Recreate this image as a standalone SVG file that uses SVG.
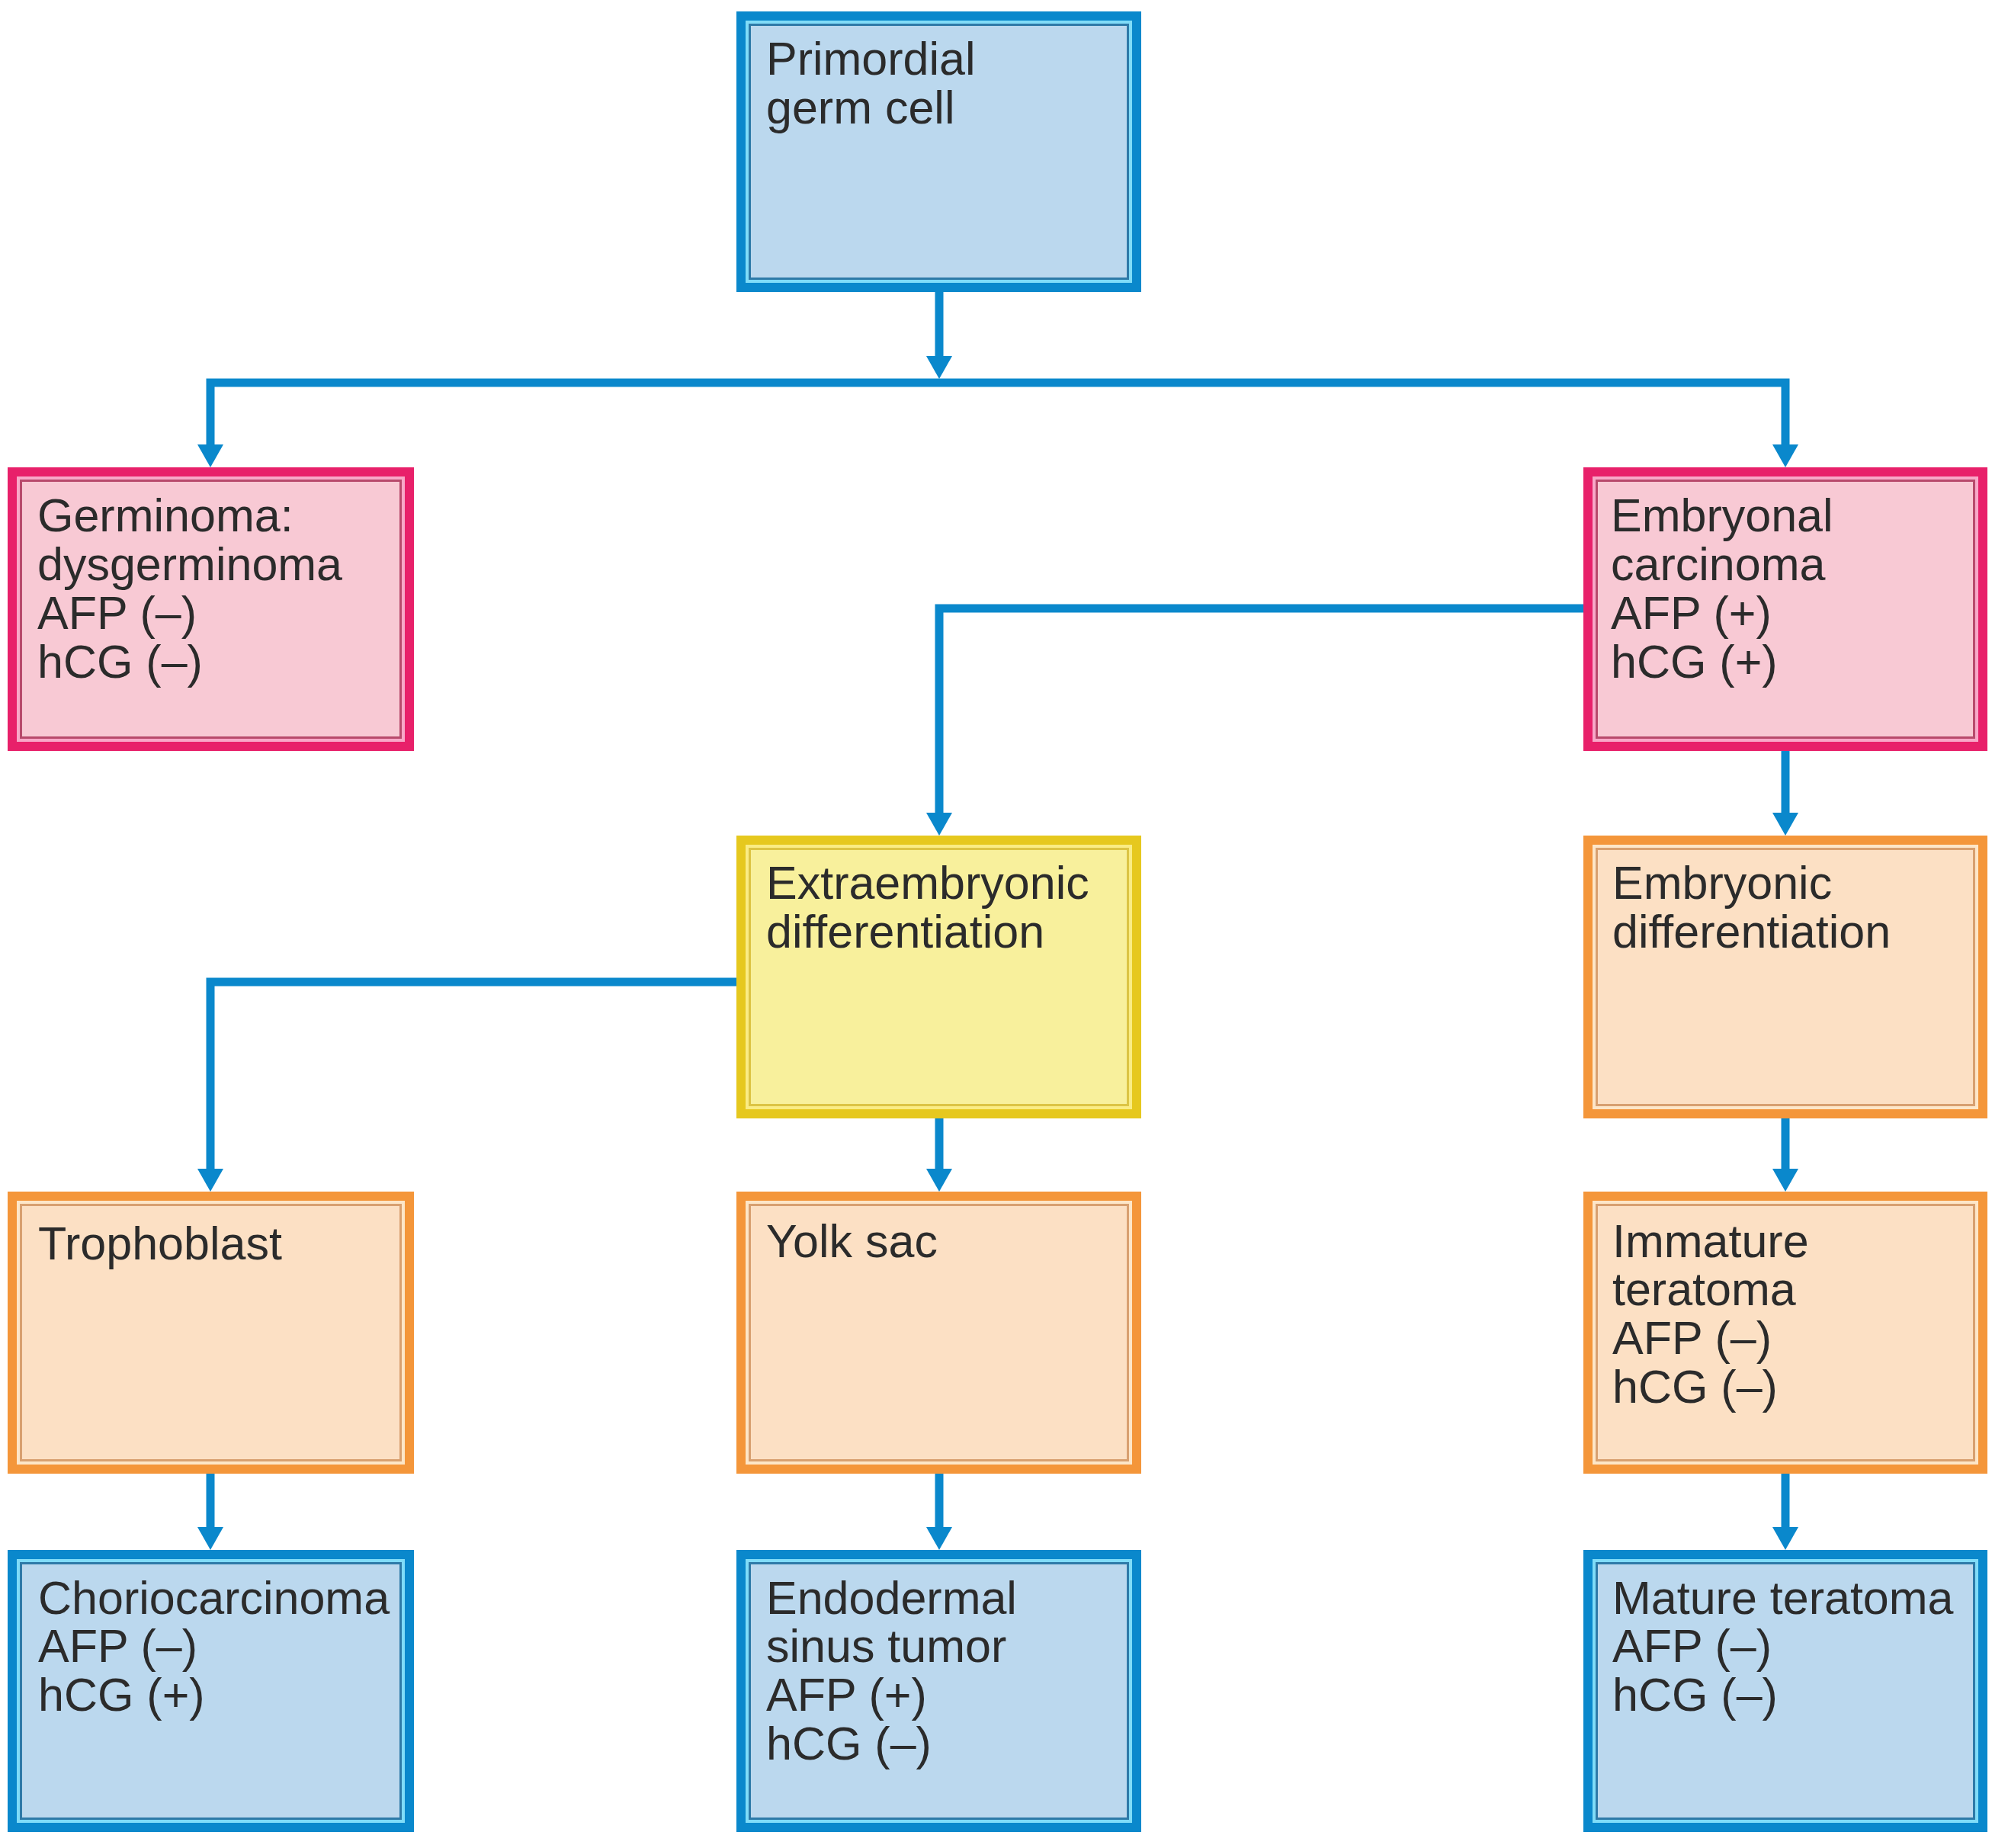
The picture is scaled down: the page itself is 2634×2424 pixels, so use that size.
<svg xmlns="http://www.w3.org/2000/svg" width="2634" height="2424" viewBox="0 0 2634 2424">
<style>
text{font-family:"Liberation Sans",Arial,sans-serif;font-size:61px;fill:#2b2b2b}
.conn{fill:none;stroke:#0a88cc;stroke-width:11;stroke-linejoin:miter;stroke-linecap:butt}
.blue .o{fill:#0a88cc}.blue .l{fill:#80dcf8}.blue .d{fill:#2e7aa8}.blue .f{fill:#bbd8ee}
.pink .o{fill:#e8206a}.pink .l{fill:#f8a8c8}.pink .d{fill:#b84a6c}.pink .f{fill:#f8c9d4}
.yellow .o{fill:#e6c81e}.yellow .l{fill:#faec84}.yellow .d{fill:#dcc444}.yellow .f{fill:#f8f09c}
.orange .o{fill:#f4963a}.orange .l{fill:#fde6c8}.orange .d{fill:#d8a070}.orange .f{fill:#fce0c4}
</style>
<defs>
<marker id="ah" markerUnits="userSpaceOnUse" markerWidth="40" markerHeight="40" refX="2" refY="0" orient="auto" overflow="visible">
<path d="M0,-17 L30,0 L0,17 Z" fill="#0a88cc"/>
</marker>
</defs>
<rect width="2634" height="2424" fill="#ffffff"/>

<g id="connectors">
<path class="conn" d="M1232,383 V469" marker-end="url(#ah)"/>
<path class="conn" d="M1232,502 H276 V585" marker-end="url(#ah)"/>
<path class="conn" d="M1232,502 H2342 V585" marker-end="url(#ah)"/>
<path class="conn" d="M2077,798 H1232 V1068" marker-end="url(#ah)"/>
<path class="conn" d="M2342,985 V1068" marker-end="url(#ah)"/>
<path class="conn" d="M967,1288 H276 V1535" marker-end="url(#ah)"/>
<path class="conn" d="M1232,1467 V1535" marker-end="url(#ah)"/>
<path class="conn" d="M2342,1467 V1535" marker-end="url(#ah)"/>
<path class="conn" d="M276,1933 V2005" marker-end="url(#ah)"/>
<path class="conn" d="M1232,1933 V2005" marker-end="url(#ah)"/>
<path class="conn" d="M2342,1933 V2005" marker-end="url(#ah)"/>
</g>

<g id="primordial" class="blue">
<rect class="o" x="966" y="15" width="531" height="368"/>
<rect class="l" x="978" y="27" width="507" height="344"/>
<rect class="d" x="982" y="31" width="499" height="336"/>
<rect class="f" x="985" y="34" width="493" height="330"/>
<text x="1005" y="98">Primordial</text>
<text x="1005" y="162">germ cell</text>
</g>

<g id="germinoma" class="pink">
<rect class="o" x="10" y="613" width="533" height="372"/>
<rect class="l" x="22" y="625" width="509" height="348"/>
<rect class="d" x="26" y="629" width="501" height="340"/>
<rect class="f" x="29" y="632" width="495" height="334"/>
<text x="49" y="697">Germinoma:</text>
<text x="49" y="761">dysgerminoma</text>
<text x="49" y="825">AFP (–)</text>
<text x="49" y="889">hCG (–)</text>
</g>

<g id="embryonal" class="pink">
<rect class="o" x="2077" y="613" width="530" height="372"/>
<rect class="l" x="2089" y="625" width="506" height="348"/>
<rect class="d" x="2093" y="629" width="498" height="340"/>
<rect class="f" x="2096" y="632" width="492" height="334"/>
<text x="2113" y="697">Embryonal</text>
<text x="2113" y="761">carcinoma</text>
<text x="2113" y="825">AFP (+)</text>
<text x="2113" y="889">hCG (+)</text>
</g>

<g id="extraembryonic" class="yellow">
<rect class="o" x="966" y="1096" width="531" height="371"/>
<rect class="l" x="978" y="1108" width="507" height="347"/>
<rect class="d" x="982" y="1112" width="499" height="339"/>
<rect class="f" x="985" y="1115" width="493" height="333"/>
<text x="1005" y="1179">Extraembryonic</text>
<text x="1005" y="1243">differentiation</text>
</g>

<g id="embryonic" class="orange">
<rect class="o" x="2077" y="1096" width="530" height="371"/>
<rect class="l" x="2089" y="1108" width="506" height="347"/>
<rect class="d" x="2093" y="1112" width="498" height="339"/>
<rect class="f" x="2096" y="1115" width="492" height="333"/>
<text x="2115" y="1179">Embryonic</text>
<text x="2115" y="1243">differentiation</text>
</g>

<g id="trophoblast" class="orange">
<rect class="o" x="10" y="1563" width="533" height="370"/>
<rect class="l" x="22" y="1575" width="509" height="346"/>
<rect class="d" x="26" y="1579" width="501" height="338"/>
<rect class="f" x="29" y="1582" width="495" height="332"/>
<text x="50" y="1652">Trophoblast</text>
</g>

<g id="yolksac" class="orange">
<rect class="o" x="966" y="1563" width="531" height="370"/>
<rect class="l" x="978" y="1575" width="507" height="346"/>
<rect class="d" x="982" y="1579" width="499" height="338"/>
<rect class="f" x="985" y="1582" width="493" height="332"/>
<text x="1005" y="1649">Yolk sac</text>
</g>

<g id="immature" class="orange">
<rect class="o" x="2077" y="1563" width="530" height="370"/>
<rect class="l" x="2089" y="1575" width="506" height="346"/>
<rect class="d" x="2093" y="1579" width="498" height="338"/>
<rect class="f" x="2096" y="1582" width="492" height="332"/>
<text x="2115" y="1649">Immature</text>
<text x="2115" y="1712">teratoma</text>
<text x="2115" y="1776">AFP (–)</text>
<text x="2115" y="1840">hCG (–)</text>
</g>

<g id="choriocarcinoma" class="blue">
<rect class="o" x="10" y="2033" width="533" height="370"/>
<rect class="l" x="22" y="2045" width="509" height="346"/>
<rect class="d" x="26" y="2049" width="501" height="338"/>
<rect class="f" x="29" y="2052" width="495" height="332"/>
<text x="50" y="2117">Choriocarcinoma</text>
<text x="50" y="2180">AFP (–)</text>
<text x="50" y="2244">hCG (+)</text>
</g>

<g id="endodermal" class="blue">
<rect class="o" x="966" y="2033" width="531" height="370"/>
<rect class="l" x="978" y="2045" width="507" height="346"/>
<rect class="d" x="982" y="2049" width="499" height="338"/>
<rect class="f" x="985" y="2052" width="493" height="332"/>
<text x="1005" y="2117">Endodermal</text>
<text x="1005" y="2180">sinus tumor</text>
<text x="1005" y="2244">AFP (+)</text>
<text x="1005" y="2308">hCG (–)</text>
</g>

<g id="mature" class="blue">
<rect class="o" x="2077" y="2033" width="530" height="370"/>
<rect class="l" x="2089" y="2045" width="506" height="346"/>
<rect class="d" x="2093" y="2049" width="498" height="338"/>
<rect class="f" x="2096" y="2052" width="492" height="332"/>
<text x="2115" y="2117">Mature teratoma</text>
<text x="2115" y="2180">AFP (–)</text>
<text x="2115" y="2244">hCG (–)</text>
</g>
</svg>
